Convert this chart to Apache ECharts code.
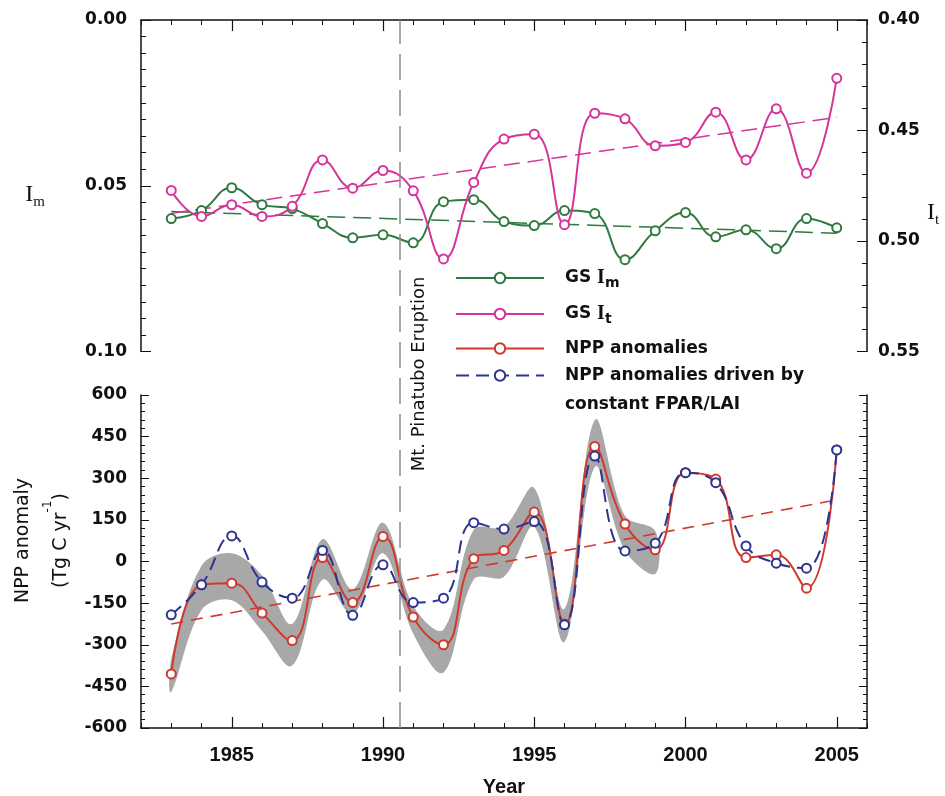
<!DOCTYPE html>
<html>
<head>
<meta charset="utf-8">
<title>GS index and NPP anomalies</title>
<script src="https://cdn.jsdelivr.net/npm/echarts@6/dist/echarts.min.js"></script>
<style>
    html, body { margin: 0; padding: 0; background: #fff; }
    #chart { width: 945px; height: 796px; }
</style>
</head>
<body>
<div id="chart"></div>
<script>
'use strict';

// years of the observations
var years = [1983, 1984, 1985, 1986, 1987, 1988, 1989, 1990, 1991, 1992, 1993, 1994,
    1995, 1996, 1997, 1998, 1999, 2000, 2001, 2002, 2003, 2004, 2005];
// GS Im (left axis, top panel)
var gsIm = [0.0599, 0.0575, 0.0506, 0.0557, 0.0569, 0.0614, 0.0657, 0.0648, 0.0672, 0.0548, 0.0542, 0.0608,
    0.0620, 0.0575, 0.0584, 0.0723, 0.0636, 0.0581, 0.0654, 0.0633, 0.0690, 0.0599, 0.0627];
// GS It (right axis, top panel)
var gsIt = [0.4771, 0.4889, 0.4836, 0.4889, 0.4843, 0.4633, 0.4761, 0.4681, 0.4773, 0.5081, 0.4735, 0.4539,
    0.4517, 0.4926, 0.4422, 0.4447, 0.4569, 0.4554, 0.4417, 0.4633, 0.4402, 0.4693, 0.4264];
// NPP anomalies (Tg C / yr)
var nppAnom = [-405, -84, -78, -186, -285, 14, -148, 90, -200, -300, 10, 40,
    178, -225, 414, 135, 42, 320, 297, 14, 24, -96, 402];
// NPP anomalies driven by constant FPAR/LAI
var nppConst = [-192, -84, 92, -74, -132, 40, -194, -12, -148, -132, 140, 117,
    144, -228, 380, 38, 66, 320, 284, 56, -6, -24, 402];
// grey uncertainty band of the NPP anomalies (1983-1999)
var bandYears = [1983, 1984, 1985, 1986, 1987, 1988, 1989, 1990, 1991, 1992, 1993, 1994,
    1995, 1996, 1997, 1998, 1999];
var bandUpper = [-350, -15, 30, -50, -225, 80, -100, 140, -160, -245, 115, 125, 265, -170, 510, 165, 110];
var bandLower = [-470, -175, -140, -250, -375, -65, -190, 30, -260, -400, -65, -55, 125, -290, 340, 40, -45];
// linear trends (start / end)
var trendYears = [1983, 2005];
var trendIm = [0.0578, 0.0643];
var trendIt = [0.4875, 0.4440];
var trendNpp = [-225, 222];
var eruptionYear = 1990.56;
// tick labels
var tickYears = [];
for (var y = 1982; y <= 2006; y++) tickYears.push(String(y));

var GREEN = '#2f7a3e', PINK = '#d6339b', RED = '#d1392e', BLUE = '#2b3490';

function pairs(xs, ys) {
    return xs.map(function (x, i) { return [x, ys[i]]; });
}

var tickFont = { fontFamily: 'DejaVu Sans', fontWeight: 'bold', fontSize: 17, color: '#111' };
var axisLineStyle = { color: '#111', width: 1.5 };

function valueX(grid, pos) {
    return {
        type: 'value', gridIndex: grid, position: pos, min: 1982, max: 2006, interval: 1,
        axisLine: { show: true, onZero: false, lineStyle: axisLineStyle },
        axisTick: { show: true, inside: true, length: 5, lineStyle: { color: '#111' } },
        axisLabel: { show: false }, splitLine: { show: false }
    };
}

function categoryX(grid, pos, labels) {
    var onFive = function (idx, val) { return Number(val) % 5 === 0; };
    return {
        type: 'category', gridIndex: grid, position: pos, data: tickYears, boundaryGap: false,
        axisLine: { show: false, onZero: false },
        axisTick: { show: true, inside: true, length: 11, interval: onFive, lineStyle: { color: '#111', width: 1.2 } },
        axisLabel: labels ? {
            show: true, interval: onFive, margin: 17,
            fontFamily: 'Liberation Sans', fontWeight: 'bold', fontSize: 20, color: '#111'
        } : { show: false },
        splitLine: { show: false }
    };
}

var xBottomCat = categoryX(1, 'bottom', true);
xBottomCat.name = 'Year';
xBottomCat.nameLocation = 'middle';
xBottomCat.nameGap = 49;
xBottomCat.nameTextStyle = { fontFamily: 'Liberation Sans', fontWeight: 'bold', fontSize: 20, color: '#111' };

// grey band drawn as one smooth polygon through the axis scales
function renderBand(params, api) {
    if (params.dataIndex !== 0) return;
    var pts = [];
    for (var i = 0; i < bandYears.length; i++) pts.push(api.coord([bandYears[i], bandUpper[i]]));
    for (var j = bandYears.length - 1; j >= 0; j--) pts.push(api.coord([bandYears[j], bandLower[j]]));
    return {
        type: 'polygon',
        shape: { points: pts, smooth: 0.35 },
        style: { fill: '#a8a8a8' }
    };
}

var chart = echarts.init(document.getElementById('chart'), null, { renderer: 'canvas' });

var option = {
    backgroundColor: '#fff',
    animation: false,
    grid: [
        { left: 141, right: 78, top: 20, height: 331.5, outerBoundsMode: 'none' },
        { left: 141, right: 78, top: 395, height: 333, outerBoundsMode: 'none' },
        { left: 141, right: 78, top: 20, height: 708, outerBoundsMode: 'none' }
    ],
    legend: [{
        data: ['GS Im', 'GS It', 'NPP anomalies'],
        orient: 'vertical', left: 455, top: 268, padding: 0,
        itemWidth: 88, itemHeight: 13, itemGap: 14,
        formatter: function (name) {
            if (name === 'GS Im') return '{t|GS }{i|I}{s|m}';
            if (name === 'GS It') return '{t|GS }{i|I}{s|t}';
            return '{t|' + name + '}';
        },
        textStyle: {
            padding: [0, 0, 0, 16],
            rich: {
                t: { fontFamily: 'DejaVu Sans', fontWeight: 'bold', fontSize: 17, lineHeight: 24, color: '#111' },
                i: { fontFamily: 'Liberation Serif', fontWeight: 'bold', fontSize: 20, lineHeight: 24, color: '#111' },
                s: { fontFamily: 'DejaVu Sans', fontWeight: 'bold', fontSize: 14, lineHeight: 16, verticalAlign: 'bottom', color: '#111' }
            }
        }
    }, {
        data: ['NPP anomalies driven by constant FPAR/LAI'],
        orient: 'vertical', left: 455, top: 332, padding: 0,
        itemWidth: 88, itemHeight: 13,
        formatter: function (name) { return '\n' + name.replace(' constant', '\nconstant'); },
        textStyle: {
            padding: [0, 0, 0, 16], lineHeight: 29,
            fontFamily: 'DejaVu Sans', fontWeight: 'bold', fontSize: 17, color: '#111'
        }
    }],
    xAxis: [
        valueX(0, 'top'),
        categoryX(0, 'top', false),
        valueX(1, 'bottom'),
        xBottomCat,
        { type: 'value', gridIndex: 2, min: 1982, max: 2006, show: false }
    ],
    yAxis: [{
        type: 'value', gridIndex: 0, position: 'left', inverse: true, min: 0, max: 0.1, interval: 0.05,
        axisLine: { show: true, lineStyle: axisLineStyle },
        axisTick: { show: true, inside: true, length: 10, lineStyle: { color: '#111' } },
        minorTick: { show: true, splitNumber: 10, length: 5, lineStyle: { color: '#111' } },
        axisLabel: Object.assign({ margin: 14, formatter: function (v) { return v.toFixed(2); } }, tickFont),
        splitLine: { show: false },
        name: '{i|I}{s|m}', nameLocation: 'middle', nameRotate: 0, nameGap: 96,
        nameTextStyle: {
            padding: [18, 0, 0, 0],
            rich: {
                i: { fontFamily: 'Liberation Serif', fontSize: 24, lineHeight: 30, color: '#111' },
                s: { fontFamily: 'Liberation Serif', fontSize: 15, lineHeight: 18, verticalAlign: 'bottom', color: '#111' }
            }
        }
    }, {
        type: 'value', gridIndex: 0, position: 'right', inverse: true, min: 0.40, max: 0.55, interval: 0.05,
        axisLine: { show: true, lineStyle: axisLineStyle },
        axisTick: { show: true, inside: true, length: 10, lineStyle: { color: '#111' } },
        minorTick: { show: true, splitNumber: 5, length: 5, lineStyle: { color: '#111' } },
        axisLabel: Object.assign({ margin: 11, formatter: function (v) { return v.toFixed(2); } }, tickFont),
        splitLine: { show: false },
        name: '{i|I}{s|t}', nameLocation: 'middle', nameRotate: 0, nameGap: 60,
        nameTextStyle: {
            padding: [54, 0, 0, 0],
            rich: {
                i: { fontFamily: 'Liberation Serif', fontSize: 24, lineHeight: 30, color: '#111' },
                s: { fontFamily: 'Liberation Serif', fontSize: 15, lineHeight: 18, verticalAlign: 'bottom', color: '#111' }
            }
        }
    }, {
        type: 'value', gridIndex: 1, position: 'left', min: -600, max: 600, interval: 150,
        axisLine: { show: true, lineStyle: axisLineStyle },
        axisTick: { show: true, inside: true, length: 8, lineStyle: { color: '#111' } },
        minorTick: { show: true, splitNumber: 5, length: 4, lineStyle: { color: '#111' } },
        axisLabel: Object.assign({ margin: 14 }, tickFont),
        splitLine: { show: false },
        name: '{a|NPP anomaly}\n{a|(Tg C yr}{p|-1}{a|)}', nameLocation: 'middle', nameRotate: 90, nameGap: 61,
        nameTextStyle: {
            padding: [0, 0, 0, 42],
            rich: {
                a: { fontFamily: 'DejaVu Sans', fontSize: 19, lineHeight: 38, color: '#111' },
                p: { fontFamily: 'DejaVu Sans', fontSize: 12, lineHeight: 26, verticalAlign: 'top', color: '#111' }
            }
        }
    }, {
        type: 'value', gridIndex: 1, position: 'right', min: -600, max: 600, interval: 150,
        axisLine: { show: true, lineStyle: axisLineStyle },
        axisTick: { show: true, inside: true, length: 8, lineStyle: { color: '#111' } },
        minorTick: { show: true, splitNumber: 5, length: 4, lineStyle: { color: '#111' } },
        axisLabel: { show: false },
        splitLine: { show: false }
    }, {
        type: 'value', gridIndex: 2, min: 0, max: 1, show: false
    }],
    series: [
        // bottom panel: grey band
        {
            name: 'band', type: 'custom', xAxisIndex: 2, yAxisIndex: 2, silent: true, z: 1,
            data: bandYears.map(function (yr, i) { return [yr, bandLower[i], bandUpper[i]]; }),
            encode: { x: 0, y: [1, 2] },
            renderItem: renderBand
        },
        // eruption marker spanning both panels
        {
            type: 'line', xAxisIndex: 4, yAxisIndex: 4, data: [[eruptionYear, 0.5]], symbol: 'none',
            lineStyle: { opacity: 0 }, silent: true,
            markLine: {
                silent: true, symbol: ['none', 'none'],
                lineStyle: { color: '#8c8c8c', type: [26, 10], width: 1.5 },
                label: {
                    show: true, position: 'insideMiddleBottom', distance: 10,
                    formatter: 'Mt. Pinatubo Eruption',
                    fontFamily: 'DejaVu Sans', fontSize: 18, color: '#111'
                },
                data: [{ xAxis: eruptionYear }]
            }
        },
        // top panel
        {
            name: 'Im trend', type: 'line', xAxisIndex: 0, yAxisIndex: 0, data: pairs(trendYears, trendIm),
            symbol: 'none', lineStyle: { color: GREEN, width: 1.5, type: [18, 8] }, silent: true
        },
        {
            name: 'It trend', type: 'line', xAxisIndex: 0, yAxisIndex: 1, data: pairs(trendYears, trendIt),
            symbol: 'none', lineStyle: { color: PINK, width: 1.5, type: [16, 8] }, silent: true
        },
        {
            name: 'GS Im', type: 'line', xAxisIndex: 0, yAxisIndex: 0, data: pairs(years, gsIm),
            smooth: 0.45, symbol: 'emptyCircle', symbolSize: 9, color: GREEN,
            lineStyle: { width: 2 }, itemStyle: { borderWidth: 1.8 }
        },
        {
            name: 'GS It', type: 'line', xAxisIndex: 0, yAxisIndex: 1, data: pairs(years, gsIt),
            smooth: 0.45, symbol: 'emptyCircle', symbolSize: 9, color: PINK,
            lineStyle: { width: 2 }, itemStyle: { borderWidth: 1.8 }
        },
        {
            name: 'NPP trend', type: 'line', xAxisIndex: 2, yAxisIndex: 2, data: pairs(trendYears, trendNpp),
            symbol: 'none', lineStyle: { color: RED, width: 1.6, type: [12, 8] }, silent: true
        },
        {
            name: 'NPP anomalies', type: 'line', xAxisIndex: 2, yAxisIndex: 2, data: pairs(years, nppAnom),
            smooth: 0.45, symbol: 'emptyCircle', symbolSize: 9, color: RED,
            lineStyle: { width: 2 }, itemStyle: { borderWidth: 1.8 }
        },
        {
            name: 'NPP anomalies driven by constant FPAR/LAI', type: 'line', xAxisIndex: 2, yAxisIndex: 2,
            data: pairs(years, nppConst),
            smooth: 0.45, symbol: 'emptyCircle', symbolSize: 9, color: BLUE,
            lineStyle: { width: 2, type: [13, 7] }, itemStyle: { borderWidth: 1.8 }
        }
    ]
};

chart.setOption(option);
</script>
</body>
</html>
